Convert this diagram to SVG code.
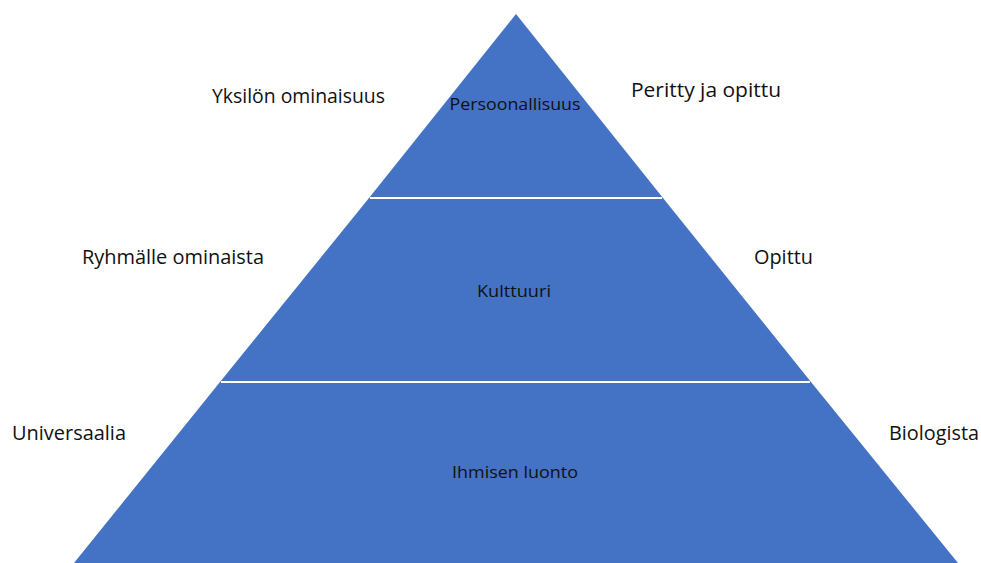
<svg xmlns="http://www.w3.org/2000/svg" width="981" height="563" viewBox="0 0 981 563">
<style>
.lbl{font-family:"Open Sans","Liberation Sans",sans-serif;font-size:20px;fill:#111}
.in{font-family:"Open Sans","Liberation Sans",sans-serif;font-size:17px;fill:#111;text-anchor:middle}
.band{fill:#4472C4}
.div{stroke:#fff;stroke-width:2}
</style>
<rect width="981" height="563" fill="#fff"/>
<g id="top">
<polygon class="band" points="516,14 663,198 369,198"/>
<text class="in" x="515" y="110" textLength="131" lengthAdjust="spacingAndGlyphs">Persoonallisuus</text>
</g>
<g id="middle">
<polygon class="band" points="369,198 663,198 811,382 220,382"/>
<text class="in" x="514" y="297" textLength="74" lengthAdjust="spacingAndGlyphs">Kulttuuri</text>
</g>
<g id="bottom">
<polygon class="band" points="220,382 811,382 958,563 74,563"/>
<text class="in" x="515" y="478" textLength="126" lengthAdjust="spacingAndGlyphs">Ihmisen luonto</text>
</g>
<g id="connectors">
<line class="div" x1="370" y1="198" x2="662" y2="198"/>
<line class="div" x1="221" y1="382" x2="810" y2="382"/>
</g>
<g id="labels">
<text class="lbl" x="212" y="103" textLength="173" lengthAdjust="spacingAndGlyphs">Yksilön ominaisuus</text>
<text class="lbl" x="631" y="97" textLength="150" lengthAdjust="spacingAndGlyphs">Peritty ja opittu</text>
<text class="lbl" x="82" y="264" textLength="182" lengthAdjust="spacingAndGlyphs">Ryhmälle ominaista</text>
<text class="lbl" x="754" y="264" textLength="59" lengthAdjust="spacingAndGlyphs">Opittu</text>
<text class="lbl" x="12" y="440" textLength="114" lengthAdjust="spacingAndGlyphs">Universaalia</text>
<text class="lbl" x="889" y="440" textLength="90" lengthAdjust="spacingAndGlyphs">Biologista</text>
</g>
</svg>
